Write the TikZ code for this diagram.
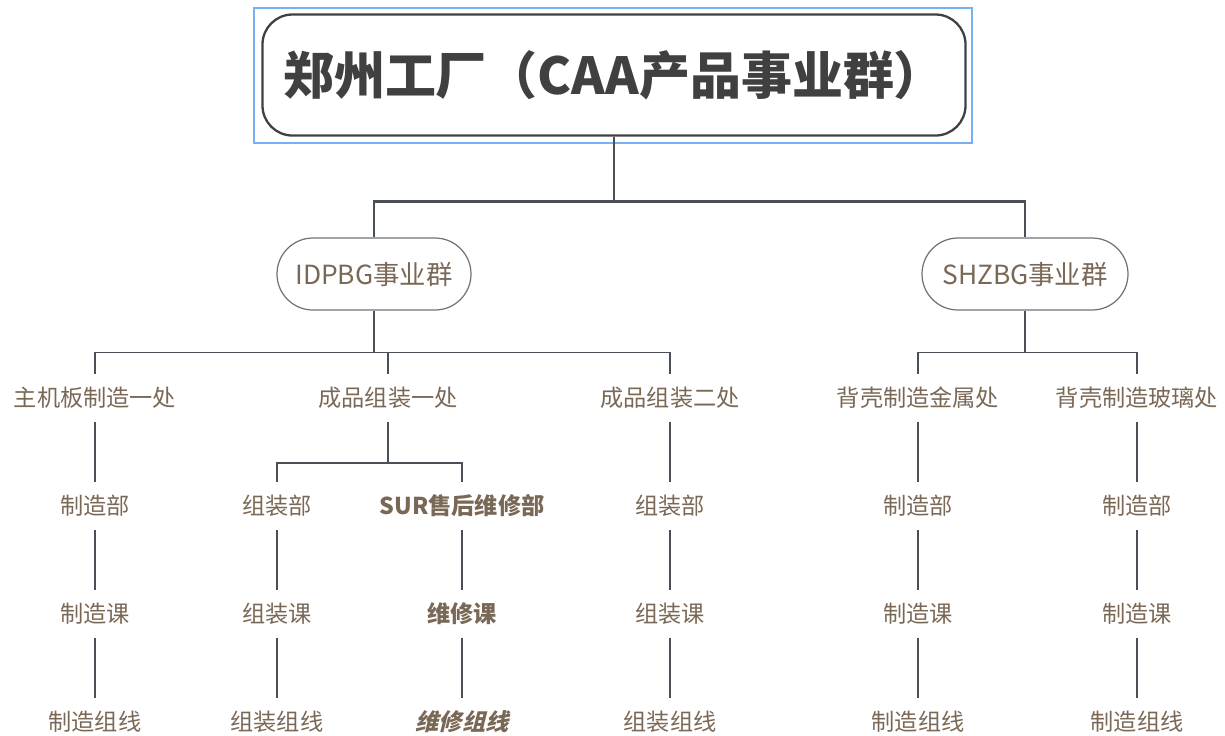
\documentclass[tikz,border=0pt]{standalone}
\usepackage{fontspec}
\setmainfont{Noto Sans CJK SC}
\newfontfamily\slantcjk{Noto Sans CJK SC}[FakeSlant=0.25, BoldFeatures={FakeSlant=0.25}]
\usetikzlibrary{calc}
\definecolor{linegray}{RGB}{74,80,88}
\definecolor{txtbrown}{RGB}{122,104,86}
\definecolor{rootgray}{RGB}{64,64,64}
\definecolor{selblue}{RGB}{120,176,240}
\tikzset{%
  % Specifications for style of nodes:
        base/.style = {inner sep=0pt, text=txtbrown},
        dept/.style = {base, minimum height=0.94cm, font=\fontsize{13.2}{15}\selectfont},
     deptbold/.style = {dept, font=\fontsize{13.2}{15}\selectfont\bfseries},
       bgbox/.style = {base, draw=linegray!80, line width=0.7pt, rounded corners=0.72cm,
                       minimum height=1.44cm, font=\fontsize{15}{18}\selectfont},
     rootbox/.style = {draw=rootgray, line width=1.3pt, rounded corners=0.6cm,
                       minimum width=14.06cm, minimum height=2.42cm, text=rootgray,
                       font=\fontsize{29}{33}\selectfont\bfseries},
  % Specifications for style of lines:
        conn/.style = {draw=linegray, line width=0.8pt},
        stem/.style = {conn, line width=1.5pt},
}

\begin{document}
\begin{tikzpicture}[x=0.2mm, y=-0.2mm, node distance=2.16cm]
  \useasboundingbox (0,0) rectangle (1225,735);
  % Specification of nodes (position, etc.)
  \node (root) [rootbox] at (614,75) {郑州工厂（CAA产品事业群）};
  \draw[selblue, line width=1.2pt] ($(root.north west)+(-7,-5)$) rectangle ($(root.south east)+(5,6)$);
  \node (idp)  [bgbox, minimum width=3.88cm] at (374,274) {IDPBG事业群};
  \node (shz)  [bgbox, minimum width=4.12cm] at (1025,274) {SHZBG事业群};

  \node (mb)   [dept] at (95,398)   {主机板制造一处};
  \node (cp1)  [dept] at (388,398)  {成品组装一处};
  \node (cp2)  [dept] at (670,398)  {成品组装二处};
  \node (bkm)  [dept] at (918,398)  {背壳制造金属处};
  \node (bkg)  [dept] at (1137,398) {背壳制造玻璃处};

  \node (mbA)  [dept, below of=mb]   {制造部};
  \node (mbB)  [dept, below of=mbA]  {制造课};
  \node (mbC)  [dept, below of=mbB]  {制造组线};
  \node (zzA)  [dept, below of=cp1, xshift=-2.22cm] {组装部};
  \node (zzB)  [dept, below of=zzA]  {组装课};
  \node (zzC)  [dept, below of=zzB]  {组装组线};
  \node (surA) [deptbold, below of=cp1, xshift=1.48cm] {SUR售后维修部};
  \node (surB) [deptbold, below of=surA] {维修课};
  \node (surC) [deptbold, below of=surB] {\slantcjk\bfseries 维修组线};
  \node (cpA)  [dept, below of=cp2]  {组装部};
  \node (cpB)  [dept, below of=cpA]  {组装课};
  \node (cpC)  [dept, below of=cpB]  {组装组线};
  \node (bmA)  [dept, below of=bkm]  {制造部};
  \node (bmB)  [dept, below of=bmA]  {制造课};
  \node (bmC)  [dept, below of=bmB]  {制造组线};
  \node (bgA)  [dept, below of=bkg]  {制造部};
  \node (bgB)  [dept, below of=bgA]  {制造课};
  \node (bgC)  [dept, below of=bgB]  {制造组线};

  % Specification of lines between nodes specified above
  \coordinate (rootj) at ($(root.south)+(0,65)$);
  \coordinate (idpj)  at ($(idp.south)+(0,42)$);
  \coordinate (shzj)  at ($(shz.south)+(0,42)$);
  \coordinate (cpj)   at ($(cp1.south)+(0,41)$);
  \draw[stem] (root.south) -- (rootj);
  \draw[stem] (idp.north) |- (rootj) -| (shz.north);
  \draw[stem] (idp.south) -- (idpj);
  \draw[stem] (shz.south) -- (shzj);
  \draw[conn] (mb.north) |- (idpj) -| (cp2.north);
  \draw[conn] (cp1.north) -- (cp1.north |- idpj);
  \draw[conn] (bkm.north) |- (shzj) -| (bkg.north);
  \draw[conn] (cp1) -- (cpj);
  \draw[conn] (zzA) |- (cpj) -| (surA);
  \draw[conn] (mb) -- (mbA) (mbA) -- (mbB) (mbB) -- (mbC);
  \draw[conn] (zzA) -- (zzB) (zzB) -- (zzC);
  \draw[conn] (surA) -- (surB) (surB) -- (surC);
  \draw[conn] (cp2) -- (cpA) (cpA) -- (cpB) (cpB) -- (cpC);
  \draw[conn] (bkm) -- (bmA) (bmA) -- (bmB) (bmB) -- (bmC);
  \draw[conn] (bkg) -- (bgA) (bgA) -- (bgB) (bgB) -- (bgC);
\end{tikzpicture}
\end{document}
